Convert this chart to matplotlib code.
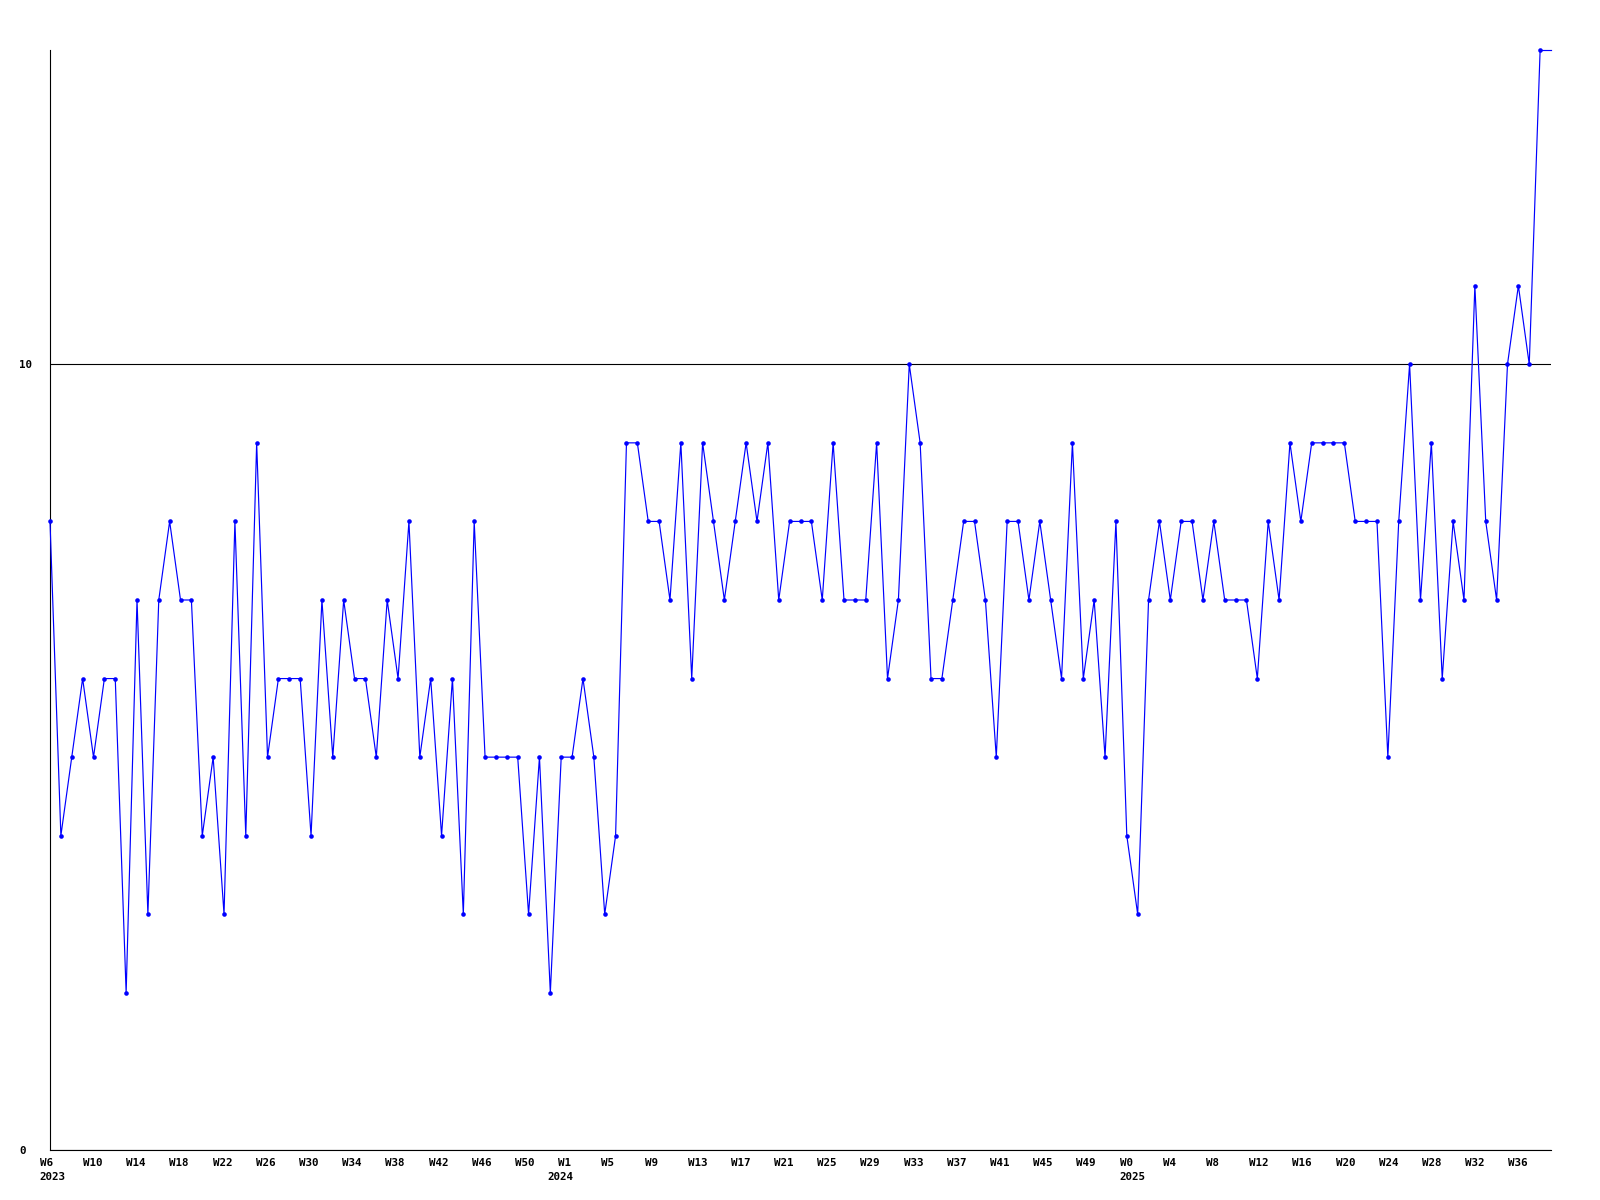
import matplotlib
matplotlib.use("Agg")
import matplotlib.pyplot as plt
from matplotlib.transforms import ScaledTranslation

# -----------------------------
# Dados (um valor por semana, W6/2023 .. W37/2025)
# -----------------------------
weekly_values = [
    8, 4, 5, 6, 5, 6, 6, 2, 7, 3, 7, 8, 7, 7, 4, 5, 3, 8, 4, 9, 5, 6, 6, 6, 4, 7, 5,
    7, 6, 6, 5, 7, 6, 8, 5, 6, 4, 6, 3, 8, 5, 5, 5, 5, 3, 5, 2, 5, 5, 6, 5, 3, 4, 9,
    9, 8, 8, 7, 9, 6, 9, 8, 7, 8, 9, 8, 9, 7, 8, 8, 8, 7, 9, 7, 7, 7, 9, 6, 7, 10, 9,
    6, 6, 7, 8, 8, 7, 5, 8, 8, 7, 8, 7, 6, 9, 6, 7, 5, 8, 4, 3, 7, 8, 7, 8, 8, 7,
    8, 7, 7, 7, 6, 8, 7, 9, 8, 9, 9, 9, 9, 8, 8, 8, 5, 8, 10, 7, 9, 6, 8, 7, 11, 8, 7,
    10, 11, 10, 14,
]

week_labels = [
    "W6", "W10", "W14", "W18", "W22", "W26", "W30", "W34", "W38", "W42", "W46", "W50",
    "W1", "W5", "W9", "W13", "W17", "W21", "W25", "W29", "W33", "W37", "W41", "W45", "W49",
    "W0", "W4", "W8", "W12", "W16", "W20", "W24", "W28", "W32", "W36",
]
label_step = 4  # uma etiqueta a cada 4 semanas

year_labels = ["2023", "2024", "2025"]
year_weeks = [0, 47, 100]

y_ticks = [0, 10]
y_max = 14

# -----------------------------
# Plot
# -----------------------------
plt.rcParams["font.family"] = ["DejaVu Sans Mono"]
plt.rcParams["font.weight"] = "bold"
plt.rcParams["font.size"] = 7.8

W, H = 1600, 1200
fig = plt.figure(figsize=(W / 100, H / 100), dpi=100)
ax = fig.add_axes([50 / W, 50 / H, 1501 / W, 1100 / H])

n = len(weekly_values)
x = list(range(n))

ax.plot(x, weekly_values, color="#0000ff", lw=0.85, marker="o", ms=3.3,
        mew=0, clip_on=False, zorder=3)
# a última semana continua até a borda direita
ax.plot([x[-1], n], [weekly_values[-1], weekly_values[-1]], color="#0000ff",
        lw=0.85, clip_on=False, zorder=3)

ax.set_xlim(0, n)
ax.set_ylim(0, y_max)

for side in ("top", "right"):
    ax.spines[side].set_visible(False)
for side in ("left", "bottom"):
    ax.spines[side].set_linewidth(0.8)
    ax.spines[side].set_color("black")

# linha horizontal de referência nos ticks do eixo y
ax.set_yticks(y_ticks)
ax.set_yticklabels([str(v) for v in y_ticks])
ax.yaxis.grid(True, color="black", lw=0.8)
ax.tick_params(axis="y", length=0, pad=22.3)
for lab in ax.get_yticklabels():
    lab.set_horizontalalignment("left")

# etiquetas das semanas: grade um pouco mais apertada que os pontos
scale = n / (n + 1)
shift = ScaledTranslation(-10.2 / 100, 0, fig.dpi_scale_trans)
tick_x = [i * label_step * scale for i in range(len(week_labels))]
ax.set_xticks(tick_x)
ax.set_xticklabels(week_labels, ha="left")
ax.tick_params(axis="x", length=0, pad=5.5)
for lab in ax.get_xticklabels():
    lab.set_transform(lab.get_transform() + shift)

year_shift = ScaledTranslation(-10.2 / 100, -22 / 100, fig.dpi_scale_trans)
for yr, wk in zip(year_labels, year_weeks):
    ax.text(wk * scale, 0, yr, transform=ax.get_xaxis_transform() + year_shift,
            ha="left", va="top")

fig.savefig("out.png", dpi=100)
